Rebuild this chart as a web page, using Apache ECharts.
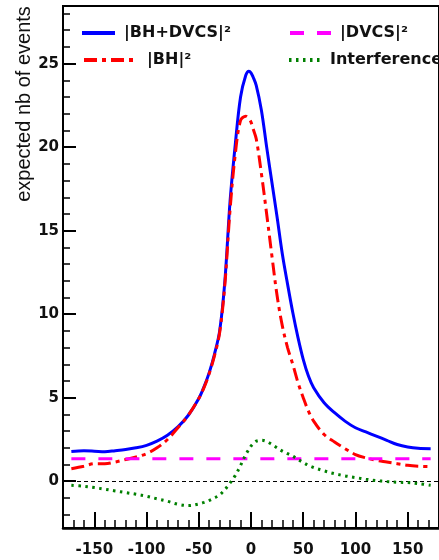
<!DOCTYPE html>
<html>
<head>
<meta charset="utf-8">
<script src="https://cdn.jsdelivr.net/npm/echarts@6/dist/echarts.min.js"></script>
<style>
html,body{margin:0;padding:0;background:#fff;}
#c{width:439px;height:560px;}
</style>
</head>
<body>
<div id="c"></div>
<script>
// ---- data ----
const xVals = [-172,-160,-150,-140,-130,-120,-110,-100,-90,-80,-70,-60,-50,-45,-40,-35,-30,-25,-20,-15,-10,-5,-2,0,2,5,10,15,20,25,30,35,40,45,50,55,60,70,80,90,100,110,120,130,140,150,160,172];
const bhDvcs = [1.78,1.82,1.80,1.77,1.83,1.90,2.00,2.15,2.40,2.75,3.25,3.95,4.95,5.65,6.50,7.60,9.00,12.0,16.8,20.2,23.0,24.3,24.55,24.45,24.2,23.7,22.2,20.0,17.9,15.8,13.6,11.8,10.1,8.6,7.3,6.3,5.6,4.7,4.1,3.6,3.2,2.95,2.7,2.45,2.2,2.05,1.97,1.95];
const bh = [0.75,0.90,1.05,1.05,1.15,1.30,1.45,1.65,2.00,2.50,3.20,3.95,4.95,5.60,6.45,7.50,8.90,11.8,16.3,19.6,21.6,21.85,21.7,21.5,21.1,20.5,18.4,16.0,13.5,11.1,9.3,8.0,7.0,5.9,5.0,4.2,3.6,2.8,2.35,1.95,1.6,1.4,1.25,1.15,1.05,0.95,0.90,0.88];
const dvcs = [1.35,1.35,1.35,1.35,1.35,1.35,1.35,1.35,1.35,1.35,1.35,1.35,1.35,1.35,1.35,1.35,1.35,1.35,1.35,1.35,1.34,1.34,1.34,1.34,1.34,1.34,1.34,1.34,1.34,1.35,1.35,1.35,1.35,1.35,1.35,1.35,1.35,1.35,1.35,1.35,1.35,1.35,1.35,1.35,1.35,1.35,1.35,1.35];
const interf = [-0.24,-0.30,-0.38,-0.48,-0.58,-0.68,-0.78,-0.90,-1.05,-1.20,-1.38,-1.46,-1.36,-1.27,-1.15,-1.00,-0.82,-0.50,-0.10,0.35,0.95,1.60,1.90,2.10,2.25,2.40,2.45,2.38,2.20,2.00,1.80,1.65,1.50,1.30,1.12,0.95,0.82,0.62,0.45,0.32,0.22,0.12,0.04,-0.02,-0.06,-0.08,-0.14,-0.24];
const seriesNames = ['|BH+DVCS|²','|BH|²','|DVCS|²','Interference'];
const xTickLabels = [-150,-100,-50,0,50,100,150];
const xMinorTicks = [-170,-160,-140,-130,-120,-110,-90,-80,-70,-60,-40,-30,-20,-10,10,20,30,40,60,70,80,90,110,120,130,140,160,170];
const yTickLabels = [0,5,10,15,20,25];
const yMinorTicks = [-2,-1,1,2,3,4,6,7,8,9,11,12,13,14,16,17,18,19,21,22,23,24,26,27,28];
const yTitle = 'expected nb of events';

const pairs = ys => xVals.map((x,i)=>[x, ys[i]]);
const tickFont = {fontFamily:'DejaVu Sans', fontWeight:'bold', fontSize:15, color:'#111'};
const legFont = {fontFamily:'DejaVu Sans', fontWeight:'bold', fontSize:16, color:'#111'};

const chart = echarts.init(document.getElementById('c'), null, {renderer:'canvas'});
const X0 = -180, X1 = 180, Y0 = -2.8, Y1 = 28.45;
const legBase = {padding:0, itemHeight:14, itemStyle:{opacity:0, borderWidth:0}};

chart.setOption({
  animation:false,
  backgroundColor:'#fff',
  grid:{left:63, top:6, right:-11, bottom:32, show:true, borderColor:'#000', borderWidth:2, backgroundColor:'transparent'},
  xAxis:[
    {type:'value', min:X0, max:X1, position:'bottom',
     axisLine:{show:true, onZero:false, lineStyle:{color:'#000', width:2.5}},
     axisTick:{show:true, inside:true, length:8, customValues:xMinorTicks, lineStyle:{color:'#000', width:1.5}},
     axisLabel:{show:false}, splitLine:{show:false}},
    {type:'value', min:X0, max:X1, position:'bottom', offset:0,
     axisLine:{show:false, onZero:false},
     axisTick:{show:true, inside:true, length:16, customValues:xTickLabels, lineStyle:{color:'#000', width:2}},
     axisLabel:{show:true, customValues:xTickLabels, margin:15, ...tickFont}, splitLine:{show:false}}
  ],
  yAxis:[
    {type:'value', min:Y0, max:Y1, position:'left',
     axisLine:{show:true, onZero:false, lineStyle:{color:'#000', width:2}},
     axisTick:{show:true, inside:true, length:7, customValues:yMinorTicks, lineStyle:{color:'#000', width:1.5}},
     axisLabel:{show:false}, splitLine:{show:false}},
    {type:'value', min:Y0, max:Y1, position:'left', offset:0,
     axisLine:{show:false, onZero:false},
     axisTick:{show:true, inside:true, length:13, customValues:yTickLabels, lineStyle:{color:'#000', width:2}},
     axisLabel:{show:true, customValues:yTickLabels, margin:4, ...tickFont}, splitLine:{show:false}}
  ],
  legend:[
    {...legBase, data:[seriesNames[0]], left:80, top:25, itemWidth:33, lineStyle:{width:4}, textStyle:{...legFont, padding:[0,0,0,4]}},
    {...legBase, data:[seriesNames[1]], left:82, top:52, itemWidth:50, lineStyle:{width:4}, textStyle:{...legFont, padding:[0,0,0,8]}},
    {...legBase, data:[seriesNames[2]], left:288, top:25, itemWidth:42, lineStyle:{width:4}, textStyle:{...legFont, padding:[0,0,0,3]}},
    {...legBase, data:[seriesNames[3]], left:287, top:52, itemWidth:35, lineStyle:{width:4}, textStyle:{...legFont, padding:[0,0,0,1]}}
  ],
  series:[
    {name:seriesNames[0], type:'line', data:pairs(bhDvcs), symbol:'none', smooth:0.35, z:2,
     lineStyle:{color:'#0000ff', width:3}, itemStyle:{color:'#0000ff'}},
    {name:seriesNames[1], type:'line', data:pairs(bh), symbol:'none', smooth:0.35, z:3,
     lineStyle:{color:'#ff0000', width:3, type:[13,5,4,5]}, itemStyle:{color:'#ff0000'}},
    {name:seriesNames[2], type:'line', data:pairs(dvcs), symbol:'none', smooth:0.35, z:4,
     lineStyle:{color:'#ff00ff', width:3, type:[14,13]}, itemStyle:{color:'#ff00ff'},
     markLine:{silent:true, symbol:'none', label:{show:false},
       lineStyle:{color:'#000', width:1, type:[4,3]}, data:[{yAxis:0}]}},
    {name:seriesNames[3], type:'line', data:pairs(interf), symbol:'none', smooth:0.35, z:5,
     lineStyle:{color:'#008000', width:3, type:[2.5,4.5]}, itemStyle:{color:'#008000'}}
  ],
  graphic:[
    {type:'text', x:24, y:104, rotation:Math.PI/2,
     style:{text:yTitle, fontFamily:'Liberation Sans', fontSize:20, fill:'#111', align:'center', verticalAlign:'middle'}}
  ]
});
</script>
</body>
</html>
